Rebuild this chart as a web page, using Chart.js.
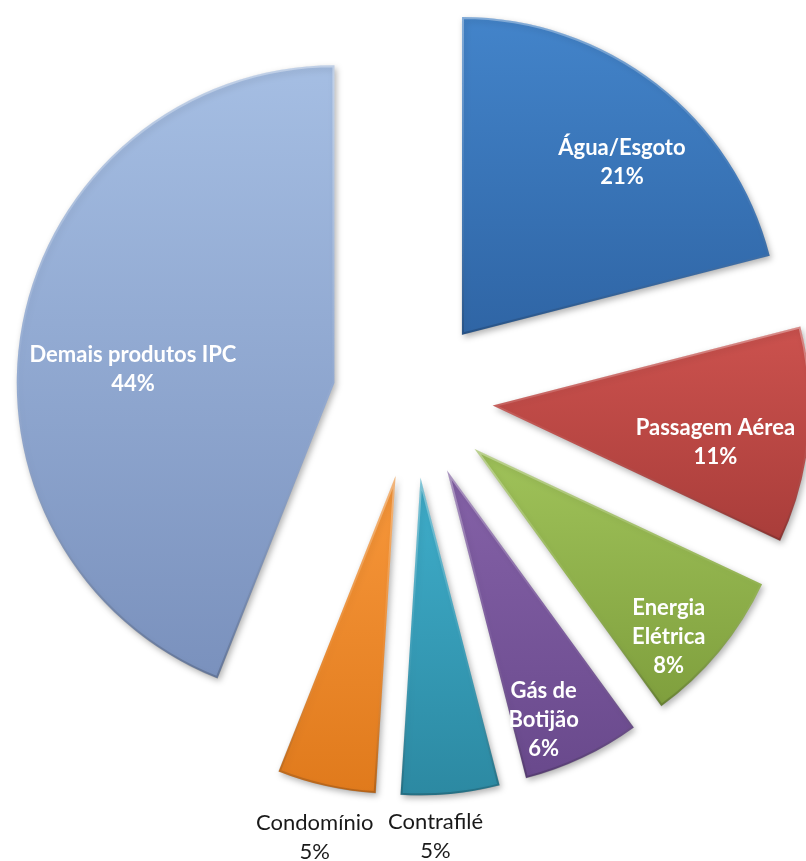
<!DOCTYPE html>
<html>
<head>
<meta charset="utf-8">
<script src="https://cdn.jsdelivr.net/npm/chart.js@4.4.0/dist/chart.umd.min.js"></script>
<style>
  html, body { margin: 0; padding: 0; background: #fff; }
  #wrap { width: 806px; height: 861px; }
</style>
</head>
<body>
<div id="wrap"><canvas id="ipcChart"></canvas></div>
<script>
// data, clockwise from 12 o'clock
const categories = [
    ['Água/Esgoto'],
    ['Passagem Aérea'],
    ['Energia', 'Elétrica'],
    ['Gás de', 'Botijão'],
    ['Contrafilé'],
    ['Condomínio'],
    ['Demais produtos IPC']
];
const shares = [21, 11, 8, 6, 5, 5, 44];

// look
const lightColors = ['#4384ca', '#cc524e', '#a0c35a', '#8562a8', '#3faecb', '#f7973b', '#a5bee3'];
const darkColors  = ['#2f65a5', '#a93d3a', '#7f9f3d', '#69498c', '#2c89a2', '#e07a1c', '#7a91bd'];
const labelInside = [true, true, true, true, false, false, true];
const labelRadius = [0.74, 0.71, 0.85, 0.84, 1.128, 1.165, 0.635];
const labelNudge  = [5, 4, 4.5, 4, 3, 0, -7]; // degrees
const EXPLODE = 80;
const RADIUS = 318;
const LINE_H = 29;

function sliceAngles(i) {
    const total = shares.reduce((a, b) => a + b, 0);
    const before = shares.slice(0, i).reduce((a, b) => a + b, 0);
    const start = -Math.PI / 2 + before / total * 2 * Math.PI;
    return { start: start, end: start + shares[i] / total * 2 * Math.PI };
}

// vertical extent of an exploded slice
function sliceSpan(chart, i) {
    const area = chart.chartArea;
    const { start, end } = sliceAngles(i);
    const mid = (start + end) / 2;
    const cy = (area.top + area.bottom) / 2 + Math.sin(mid) * EXPLODE;
    const ys = [cy, cy + Math.sin(start) * RADIUS, cy + Math.sin(end) * RADIUS];
    [-Math.PI / 2, Math.PI / 2, 3 * Math.PI / 2].forEach(a => {
        if (a > start && a < end) ys.push(cy + Math.sin(a) * RADIUS);
    });
    return [Math.min(...ys), Math.max(...ys)];
}

function sliceFill(context) {
    const chart = context.chart;
    const i = context.dataIndex;
    if (!chart.chartArea || i === undefined) return lightColors[i || 0];
    const [y0, y1] = sliceSpan(chart, i);
    const g = chart.ctx.createLinearGradient(0, y0, 0, y1);
    g.addColorStop(0, lightColors[i]);
    g.addColorStop(1, darkColors[i]);
    return g;
}

// soft bevel: light rim on top, darker towards the bottom
function sliceEdge(context) {
    const chart = context.chart;
    const i = context.dataIndex;
    if (!chart.chartArea || i === undefined) return 'rgba(0,0,0,0)';
    const [y0, y1] = sliceSpan(chart, i);
    const g = chart.ctx.createLinearGradient(0, y0, 0, y1);
    g.addColorStop(0, 'rgba(255,255,255,0.35)');
    g.addColorStop(0.5, 'rgba(255,255,255,0.05)');
    g.addColorStop(1, 'rgba(0,0,0,0.18)');
    return g;
}

// push every slice out along its bisector
const explodePlugin = {
    id: 'explode',
    afterDatasetsUpdate(chart) {
        chart.getDatasetMeta(0).data.forEach(arc => {
            const mid = (arc.startAngle + arc.endAngle) / 2;
            arc.x += Math.cos(mid) * EXPLODE;
            arc.y += Math.sin(mid) * EXPLODE;
        });
    }
};

const shadowPlugin = {
    id: 'sliceShadow',
    beforeDatasetsDraw(chart) {
        const ctx = chart.ctx;
        ctx.save();
        ctx.shadowColor = 'rgba(0,0,0,0.3)';
        ctx.shadowBlur = 6;
        ctx.shadowOffsetX = 2;
        ctx.shadowOffsetY = 3;
    },
    afterDatasetsDraw(chart) {
        chart.ctx.restore();
    }
};

const labelPlugin = {
    id: 'sliceLabels',
    afterDatasetsDraw(chart) {
        const ctx = chart.ctx;
        const arcs = chart.getDatasetMeta(0).data;
        ctx.save();
        ctx.textAlign = 'center';
        ctx.textBaseline = 'middle';
        arcs.forEach((arc, i) => {
            const ang = (arc.startAngle + arc.endAngle) / 2 + labelNudge[i] * Math.PI / 180;
            const r = arc.outerRadius * labelRadius[i];
            const x = arc.x + Math.cos(ang) * r;
            const y = arc.y + Math.sin(ang) * r;
            const lines = categories[i].concat(shares[i] + '%');
            ctx.font = labelInside[i] ? 'bold 22px Lato' : '22px Lato';
            ctx.fillStyle = labelInside[i] ? '#ffffff' : '#1a1a1a';
            const top = y - (lines.length - 1) * LINE_H / 2;
            lines.forEach((t, k) => ctx.fillText(t, x, top + k * LINE_H));
        });
        ctx.restore();
    }
};

const ctx = document.getElementById('ipcChart').getContext('2d');
new Chart(ctx, {
    type: 'pie',
    data: {
        labels: categories,
        datasets: [{
            data: shares,
            backgroundColor: sliceFill,
            borderColor: sliceEdge,
            borderWidth: 2,
            borderAlign: 'inner',
            borderJoinStyle: 'miter',
            offset: 0,
            hoverOffset: 0
        }]
    },
    options: {
        responsive: true,
        maintainAspectRatio: false,
        animation: false,
        events: [],
        radius: RADIUS,
        layout: { padding: { left: 20, right: 0, top: 0, bottom: 65 } },
        plugins: {
            legend: { display: false },
            tooltip: { enabled: false }
        }
    },
    plugins: [explodePlugin, shadowPlugin, labelPlugin]
});
</script>
</body>
</html>
